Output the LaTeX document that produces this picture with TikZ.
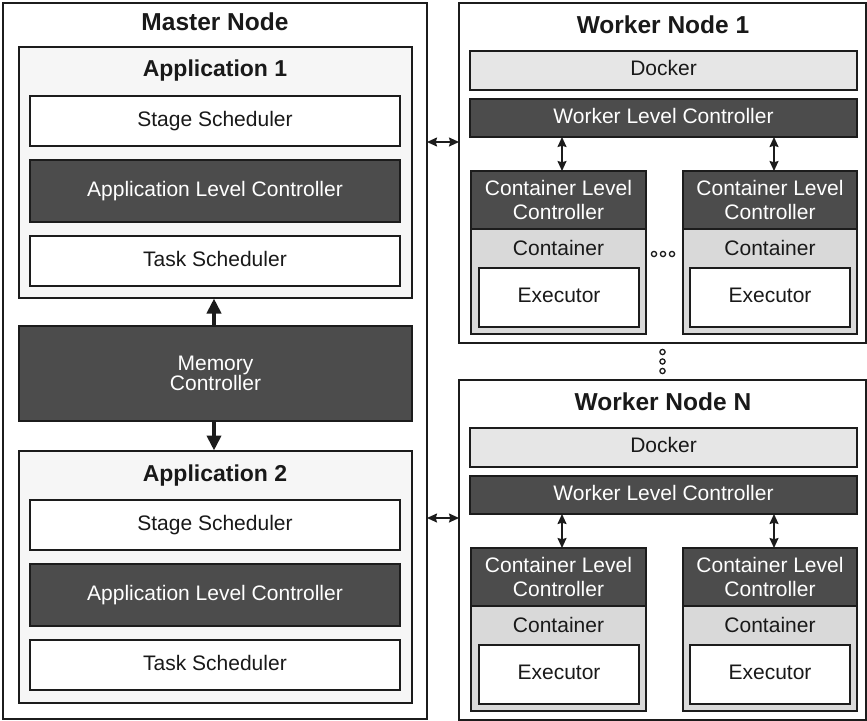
\documentclass[tikz,border=0pt]{standalone}
\usepackage{fontspec}
\setmainfont{Liberation Sans}
\usetikzlibrary{arrows.meta,calc}
\definecolor{edge}{RGB}{28,28,28}
\definecolor{darkbox}{RGB}{76,76,76}
\definecolor{contfill}{RGB}{217,217,217}
\definecolor{dockfill}{RGB}{230,230,230}
\definecolor{appfill}{RGB}{246,246,246}
\definecolor{txt}{RGB}{25,25,25}
\newcommand{\workerblock}[3]{%
  \node[box,fill=white,minimum width=407,minimum height=340] (#1) at (459,3+#2) {};
  \node[titletext] (#1t) at (663,27+#2) {#3};
  \node[box,fill=dockfill,minimum width=387,minimum height=39,label] (#1dock) at (470,51+#2) {Docker};
  \node[box,fill=darkbox,minimum width=387,minimum height=38,label,text=white] (#1wlc) at (470,99+#2) {Worker Level Controller};
  % container a
  \node[box,fill=contfill,minimum width=175,minimum height=163] (#1ca) at (471,171+#2) {};
  \node[box,fill=darkbox,minimum width=175,minimum height=58,multi,text=white] (#1clca) at (471,171+#2) {Container Level\\Controller};
  \node[plain] (#1cta) at (558.5,250+#2) {Container};
  \node[box,fill=white,minimum width=160,minimum height=59,label] (#1exa) at (479,268+#2) {Executor};
  % container b
  \node[box,fill=contfill,minimum width=174,minimum height=163] (#1cb) at (683,171+#2) {};
  \node[box,fill=darkbox,minimum width=174,minimum height=58,multi,text=white] (#1clcb) at (683,171+#2) {Container Level\\Controller};
  \node[plain] (#1ctb) at (770,250+#2) {Container};
  \node[box,fill=white,minimum width=160,minimum height=59,label] (#1exb) at (690,268+#2) {Executor};
  % arrows
  \draw[smallarrow] ($(#1wlc.south -| #1clca.north)+(3.5,0)$) -- ($(#1clca.north)+(3.5,0)$);
  \draw[smallarrow] ($(#1wlc.south -| #1clcb.north)+(4,0)$) -- ($(#1clcb.north)+(4,0)$);
}
\begin{document}
\begin{tikzpicture}[x=1pt,y=-1pt,
  box/.style={draw=edge,line width=1.4pt,rectangle,inner sep=0pt,outer sep=0pt,anchor=north west},
  label/.style={font=\fontsize{21}{24}\selectfont,text height=15pt,text depth=4.5pt,text=txt},
  multi/.style={font=\fontsize{21}{24}\selectfont,align=center,text=txt},
  plain/.style={inner sep=0pt,font=\fontsize{21}{24}\selectfont,text height=15pt,text depth=4.5pt,text=txt},
  titletext/.style={inner sep=0pt,font=\fontsize{24.5}{28}\selectfont\bfseries,text height=17.5pt,text depth=5pt,text=txt},
  apptitle/.style={inner sep=0pt,font=\fontsize{23}{27}\selectfont\bfseries,text height=16.5pt,text depth=5pt,text=txt},
  bigarrow/.style={line width=3.8pt,draw=edge,-{Triangle[length=15pt,width=14pt]},shorten >=0.5pt},
  smallarrow/.style={line width=1.5pt,draw=edge,{Stealth[length=10pt,width=9pt,inset=1.2pt]}-{Stealth[length=10pt,width=9pt,inset=1.2pt]}},
  dotc/.style={draw=edge,line width=1.3pt,fill=white}
]
\useasboundingbox (0,0) rectangle (867,720);
\fill[white] (0,0) rectangle (867,720);

% Master node
\node[box,fill=white,minimum width=424,minimum height=716] (master) at (3,3) {};
\node[titletext] (mastert) at (215,24) {Master Node};

% Application 1
\node[box,fill=appfill,minimum width=393,minimum height=251] (app1) at (19,47) {};
\node[apptitle] (app1t) at (215,71) {Application 1};
\node[box,fill=white,minimum width=370,minimum height=50,label] (ss1) at (30,96) {Stage Scheduler};
\node[box,fill=darkbox,minimum width=370,minimum height=62,label,text=white] (alc1) at (30,160) {Application Level Controller};
\node[box,fill=white,minimum width=370,minimum height=50,label] (ts1) at (30,236) {Task Scheduler};

% Memory controller
\node[box,fill=darkbox,minimum width=393,minimum height=95,align=center,font=\fontsize{21}{19}\selectfont,text=white] (mem) at (19,326) {Memory\\Controller};

% Application 2
\node[box,fill=appfill,minimum width=393,minimum height=252] (app2) at (19,451) {};
\node[apptitle] (app2t) at (215,476) {Application 2};
\node[box,fill=white,minimum width=370,minimum height=50,label] (ss2) at (30,500) {Stage Scheduler};
\node[box,fill=darkbox,minimum width=370,minimum height=62,label,text=white] (alc2) at (30,564) {Application Level Controller};
\node[box,fill=white,minimum width=370,minimum height=50,label] (ts2) at (30,640) {Task Scheduler};

\draw[bigarrow] ($(mem.north)+(-1.5,0)$) -- ($(app1.south)+(-1.5,0)$);
\draw[bigarrow] ($(mem.south)+(-1.5,0)$) -- ($(app2.north)+(-1.5,0)$);

% Workers
\workerblock{wa}{0}{Worker Node 1}
\workerblock{wn}{377}{Worker Node N}

% master <-> worker arrows
\coordinate (ya) at (0,142);
\coordinate (yn) at (0,518);
\draw[smallarrow] (master.east |- ya) -- (wa.west |- ya);
\draw[smallarrow] (master.east |- yn) -- (wn.west |- yn);

% ellipsis dots
\foreach \xx in {654,663,672} \draw[dotc] (\xx,254) circle (2.6);
\foreach \yy in {352,361.5,371} \draw[dotc] (662.5,\yy) circle (2.6);
\end{tikzpicture}
\end{document}
